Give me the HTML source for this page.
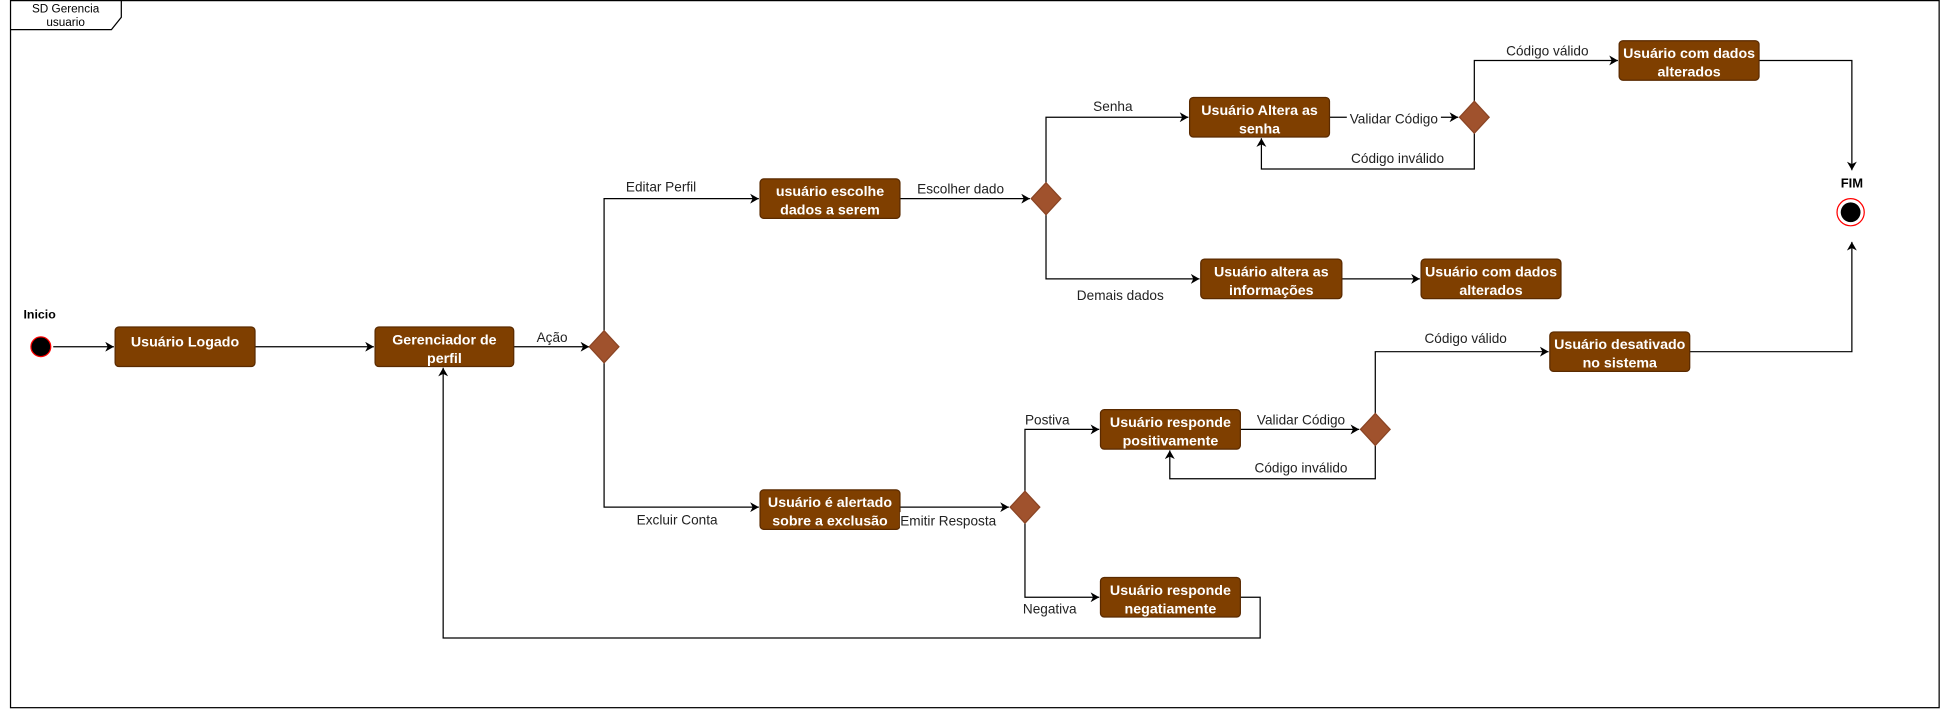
<!DOCTYPE html>
<html><head><meta charset="utf-8"><style>
html,body{margin:0;padding:0;background:#fff;}
svg{display:block;}
text{font-family:"Liberation Sans",sans-serif;}
.b{fill:#7F3F00;stroke:#5a2a00;stroke-width:1;}
.bt{fill:#fff;font-weight:bold;font-size:11.5px;text-anchor:middle;}
.l{font-size:11px;fill:#222;text-anchor:middle;}
.ln{fill:none;stroke:#000;stroke-width:1;}
.d{fill:#A0522D;stroke:#8a4424;stroke-width:1;}
</style></head><body>
<svg width="1941" height="712" viewBox="0 0 1568 577" preserveAspectRatio="none">
<defs><marker id="a" markerWidth="8" markerHeight="8" refX="7" refY="4" orient="auto" markerUnits="userSpaceOnUse"><path d="M0,0 L7,4 L0,8 L2,4 Z" fill="#000"/></marker></defs>
<rect x="8.5" y="0.5" width="1558" height="573" fill="none" stroke="#000"/>
<path d="M8.5,24 H90 L98,14 V0.5" fill="none" stroke="#000"/>
<text x="53" y="10" style="font-size:9.5px;text-anchor:middle">SD Gerencia</text>
<text x="53" y="21" style="font-size:9.5px;text-anchor:middle">usuario</text>

<text x="32" y="258" style="font-size:10px;font-weight:bold;text-anchor:middle">Inicio</text>
<circle cx="33" cy="281" r="8" fill="#000" stroke="#f00" stroke-width="1"/>

<!-- connectors -->
<path class="ln" d="M43,281 H92" marker-end="url(#a)"/>
<path class="ln" d="M206,281 H302" marker-end="url(#a)"/>
<path class="ln" d="M415,281 H476" marker-end="url(#a)"/>
<path class="ln" d="M488,269 V161 H613" marker-end="url(#a)"/>
<path class="ln" d="M488,293 V411 H613" marker-end="url(#a)"/>
<path class="ln" d="M727,161 H832" marker-end="url(#a)"/>
<path class="ln" d="M845,149 V95 H960" marker-end="url(#a)"/>
<path class="ln" d="M845,173 V226 H969" marker-end="url(#a)"/>
<path class="ln" d="M1074,95 H1178" marker-end="url(#a)"/>
<path class="ln" d="M1191,83 V49 H1307" marker-end="url(#a)"/>
<path class="ln" d="M1191,107 V137 H1019 V112" marker-end="url(#a)"/>
<path class="ln" d="M1421,49 H1496 V138" marker-end="url(#a)"/>
<path class="ln" d="M1084,226 H1147" marker-end="url(#a)"/>
<path class="ln" d="M727,411 H815" marker-end="url(#a)"/>
<path class="ln" d="M828,399 V348 H888" marker-end="url(#a)"/>
<path class="ln" d="M828,423 V484 H888" marker-end="url(#a)"/>
<path class="ln" d="M1002,348 H1098" marker-end="url(#a)"/>
<path class="ln" d="M1111,360 V388 H945 V365" marker-end="url(#a)"/>
<path class="ln" d="M1111,336 V285 H1251" marker-end="url(#a)"/>
<path class="ln" d="M1365,285 H1496 V196" marker-end="url(#a)"/>
<path class="ln" d="M1002,484 H1018 V517 H358 V298" marker-end="url(#a)"/>

<!-- diamonds -->
<path class="d" d="M488,268 L500,281 L488,294 L476,281 Z"/>
<path class="d" d="M845,148 L857,161 L845,174 L833,161 Z"/>
<path class="d" d="M1191,82 L1203,95 L1191,108 L1179,95 Z"/>
<path class="d" d="M828,398 L840,411 L828,424 L816,411 Z"/>
<path class="d" d="M1111,335 L1123,348 L1111,361 L1099,348 Z"/>

<!-- boxes -->
<rect class="b" x="93" y="265" width="113" height="32" rx="3"/>
<text class="bt" x="149.5" y="281">Usuário Logado</text>
<rect class="b" x="303" y="265" width="112" height="32" rx="3"/>
<text class="bt" x="359" y="279">Gerenciador de</text><text class="bt" x="359" y="294">perfil</text>
<rect class="b" x="614" y="145" width="113" height="32" rx="3"/>
<text class="bt" x="670.5" y="159">usuário escolhe</text><text class="bt" x="670.5" y="174">dados a serem</text>
<rect class="b" x="961" y="79" width="113" height="32" rx="3"/>
<text class="bt" x="1017.5" y="93">Usuário Altera as</text><text class="bt" x="1017.5" y="108">senha</text>
<rect class="b" x="1308" y="33" width="113" height="32" rx="3"/>
<text class="bt" x="1364.5" y="47">Usuário com dados</text><text class="bt" x="1364.5" y="62">alterados</text>
<rect class="b" x="970" y="210" width="114" height="32" rx="3"/>
<text class="bt" x="1027" y="224">Usuário altera as</text><text class="bt" x="1027" y="239">informações</text>
<rect class="b" x="1148" y="210" width="113" height="32" rx="3"/>
<text class="bt" x="1204.5" y="224">Usuário com dados</text><text class="bt" x="1204.5" y="239">alterados</text>
<rect class="b" x="1252" y="269" width="113" height="32" rx="3"/>
<text class="bt" x="1308.5" y="283">Usuário desativado</text><text class="bt" x="1308.5" y="298">no sistema</text>
<rect class="b" x="614" y="397" width="113" height="32" rx="3"/>
<text class="bt" x="670.5" y="411">Usuário é alertado</text><text class="bt" x="670.5" y="426">sobre a exclusão</text>
<rect class="b" x="889" y="332" width="113" height="32" rx="3"/>
<text class="bt" x="945.5" y="346">Usuário responde</text><text class="bt" x="945.5" y="361">positivamente</text>
<rect class="b" x="889" y="468" width="113" height="32" rx="3"/>
<text class="bt" x="945.5" y="482">Usuário responde</text><text class="bt" x="945.5" y="497">negatiamente</text>

<!-- end -->
<text x="1496" y="152" style="font-size:10.5px;font-weight:bold;text-anchor:middle">FIM</text>
<circle cx="1495" cy="172" r="11" fill="#fff" stroke="#f00" stroke-width="1"/>
<circle cx="1495" cy="172" r="8" fill="#000"/>

<!-- labels -->
<text class="l" x="446" y="277">Ação</text>
<text class="l" x="534" y="155">Editar Perfil</text>
<text class="l" x="547" y="425">Excluir Conta</text>
<text class="l" x="776" y="157">Escolher dado</text>
<text class="l" x="899" y="90">Senha</text>
<text class="l" x="905" y="243">Demais dados</text>
<rect x="1088" y="89" width="76" height="13" fill="#fff"/>
<text class="l" x="1126" y="100">Validar Código</text>
<text class="l" x="1250" y="45">Código válido</text>
<text class="l" x="1129" y="132">Código inválido</text>
<rect x="727" y="415" width="80" height="13" fill="#fff"/>
<text class="l" x="766" y="426">Emitir Resposta</text>
<text class="l" x="846" y="344">Postiva</text>
<text class="l" x="848" y="497">Negativa</text>
<text class="l" x="1051" y="344">Validar Código</text>
<text class="l" x="1051" y="383">Código inválido</text>
<text class="l" x="1184" y="278">Código válido</text>
</svg>
</body></html>
